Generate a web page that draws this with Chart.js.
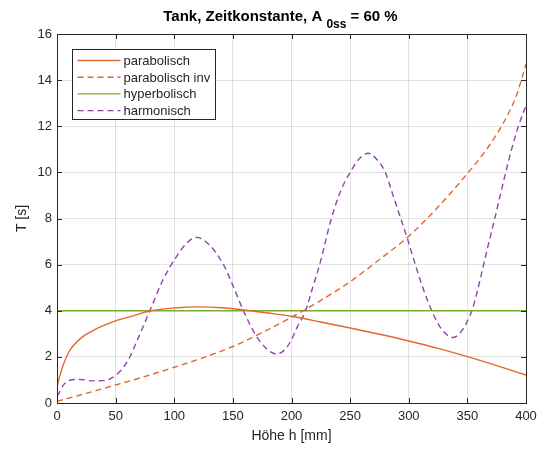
<!DOCTYPE html>
<html>
<head>
<meta charset="utf-8">
<script src="https://cdn.jsdelivr.net/npm/chart.js@4.4.1/dist/chart.umd.min.js"></script>
<style>
  body { margin: 0; background: #fff; }
  #wrap { width: 543px; height: 449px; }
</style>
</head>
<body>
<div id="wrap"><canvas id="myChart" width="543" height="449"></canvas></div>
<script>
// values
const hPara = [0, 2, 5, 10, 15, 22, 30, 37, 50, 65, 78, 100, 120, 140, 160, 180, 200, 225, 250, 275, 300, 325, 350, 375, 400];
const tPara = [0.7, 1.1, 1.6, 2.2, 2.55, 2.88, 3.12, 3.3, 3.56, 3.78, 3.98, 4.12, 4.17, 4.13, 4.03, 3.9, 3.76, 3.51, 3.25, 2.98, 2.69, 2.37, 2.01, 1.62, 1.21];

const hInv = [0, 25, 50, 75, 100, 125, 150, 175, 200, 225, 250, 275, 300, 325, 350, 365, 375, 385, 392, 396, 400];
const tInv = [0.07, 0.42, 0.78, 1.15, 1.55, 1.97, 2.45, 3.05, 3.72, 4.45, 5.26, 6.22, 7.23, 8.5, 9.95, 10.9, 11.65, 12.55, 13.35, 14.0, 14.7];

const hHyp = [0, 400];
const tHyp = [4, 4];

const hHarm = [0, 2, 5, 10, 15, 20, 30, 40, 50, 60, 70, 80, 90, 100, 110, 119, 130, 142, 150, 159, 170, 180, 187, 195, 200, 205, 212, 218, 224, 234, 242, 250, 258, 265.5, 272, 280, 286, 292.5, 299, 305.3, 312, 319.6, 328, 338, 344, 349, 354.5, 359, 363.6, 368.5, 373.6, 378, 382.7, 388, 393.5, 400];
const tHarm = [0.3, 0.45, 0.75, 0.97, 1.02, 1.02, 0.96, 0.97, 1.2, 1.8, 2.9, 4.1, 5.3, 6.2, 6.9, 7.18, 6.85, 6.0, 5.1, 4.0, 2.9, 2.3, 2.12, 2.35, 2.75, 3.3, 4.0, 5.0, 6.0, 8.0, 9.2, 10.0, 10.6, 10.83, 10.6, 10.0, 9.1, 8.1, 7.1, 6.05, 5.0, 4.0, 3.2, 2.84, 3.05, 3.45, 4.1, 4.95, 5.95, 7.0, 8.05, 9.0, 10.0, 11.05, 12.0, 12.9];

const xTicks = [0, 50, 100, 150, 200, 250, 300, 350, 400];
const yTicks = [0, 2, 4, 6, 8, 10, 12, 14, 16];

const seriesNames = ['parabolisch', 'parabolisch inv', 'hyperbolisch', 'harmonisch'];

const FONT = '"Liberation Sans", Arial, Helvetica, sans-serif';
const TXT = '#262626';

const pts = (xs, ys) => xs.map((x, i) => ({ x: x, y: ys[i] }));

function line(label, data, color, dash) {
    return {
        label: label,
        data: data,
        borderColor: color,
        backgroundColor: color,
        borderWidth: 1.4,
        borderDash: dash,
        pointRadius: 0,
        fill: false,
        cubicInterpolationMode: 'monotone'
    };
}

// Title with subscript "0ss"
const titlePlugin = {
    id: 'matTitle',
    afterDraw(chart) {
        const ctx = chart.ctx;
        const a = chart.chartArea;
        const p1 = 'Tank, Zeitkonstante, A ';
        const sub = '0ss';
        const p2 = ' = 60 %';
        ctx.save();
        ctx.fillStyle = '#000';
        ctx.textBaseline = 'alphabetic';
        ctx.textAlign = 'left';
        ctx.font = 'bold 15px ' + FONT;
        const w1 = ctx.measureText(p1).width;
        const w3 = ctx.measureText(p2).width;
        ctx.font = 'bold 12px ' + FONT;
        const w2 = ctx.measureText(sub).width;
        const total = w1 + w2 + w3;
        let x = (a.left + a.right) / 2 - 11 - total / 2;
        ctx.font = 'bold 15px ' + FONT;
        ctx.fillText(p1, x, 21);
        x += w1;
        ctx.font = 'bold 12px ' + FONT;
        ctx.fillText(sub, x, 28);
        x += w2;
        ctx.font = 'bold 15px ' + FONT;
        ctx.fillText(p2, x, 21);
        ctx.restore();
    }
};

// axes box with inward ticks, and legend inside the plot
const boxPlugin = {
    id: 'matBox',
    afterDraw(chart) {
        const ctx = chart.ctx;
        const a = chart.chartArea;
        const xs = chart.scales.x, ys = chart.scales.y;
        const tl = 5;
        ctx.save();
        ctx.strokeStyle = TXT;
        ctx.lineWidth = 1;
        ctx.beginPath();
        xTicks.forEach(v => {
            const px = Math.round(xs.getPixelForValue(v)) + 0.5;
            ctx.moveTo(px, a.bottom); ctx.lineTo(px, a.bottom - tl);
            ctx.moveTo(px, a.top); ctx.lineTo(px, a.top + tl);
        });
        yTicks.forEach(v => {
            const py = Math.round(ys.getPixelForValue(v)) + 0.5;
            ctx.moveTo(a.left, py); ctx.lineTo(a.left + tl, py);
            ctx.moveTo(a.right, py); ctx.lineTo(a.right - tl, py);
        });
        ctx.stroke();
        ctx.strokeRect(Math.round(a.left) + 0.5, Math.round(a.top) + 0.5,
            Math.round(a.right - a.left), Math.round(a.bottom - a.top));

        // legend
        const lx = a.left + 15.5, ly = a.top + 15.5, lw = 143, lh = 70;
        ctx.fillStyle = '#fff';
        ctx.fillRect(lx, ly, lw, lh);
        ctx.strokeRect(lx, ly, lw, lh);
        ctx.font = '13px ' + FONT;
        ctx.textBaseline = 'middle';
        ctx.textAlign = 'left';
        chart.data.datasets.forEach((ds, i) => {
            const y = ly + 11 + i * 16.7;
            ctx.strokeStyle = ds.borderColor;
            ctx.lineWidth = 1.4;
            ctx.setLineDash(ds.borderDash || []);
            ctx.beginPath();
            ctx.moveTo(lx + 5, y);
            ctx.lineTo(lx + 48, y);
            ctx.stroke();
            ctx.setLineDash([]);
            ctx.fillStyle = TXT;
            ctx.fillText(ds.label, lx + 51, y + 1);
        });
        ctx.restore();
    }
};

const config = {
    type: 'line',
    data: {
        datasets: [
            line(seriesNames[0], pts(hPara, tPara), '#E4662F', []),
            line(seriesNames[1], pts(hInv, tInv), '#E4662F', [6, 4]),
            line(seriesNames[2], pts(hHyp, tHyp), '#77AC30', []),
            line(seriesNames[3], pts(hHarm, tHarm), '#9145AA', [6, 4])
        ]
    },
    options: {
        responsive: false,
        animation: false,
        layout: { padding: { top: 34, right: 17, left: 0, bottom: 0 } },
        plugins: {
            legend: { display: false },
            title: { display: false },
            tooltip: { enabled: false }
        },
        scales: {
            x: {
                type: 'linear',
                min: 0,
                max: 400,
                afterBuildTicks: s => { s.ticks = xTicks.map(v => ({ value: v })); },
                afterFit: s => { s.height = 46; },
                grid: { color: 'rgba(38,38,38,0.13)', drawTicks: false },
                border: { display: false },
                ticks: { color: TXT, font: { family: FONT, size: 13 }, padding: 6, maxRotation: 0 },
                title: { display: true, text: 'Höhe h [mm]', color: TXT, font: { family: FONT, size: 14 }, padding: { top: 0, bottom: 4 } }
            },
            y: {
                min: 0,
                max: 16,
                afterBuildTicks: s => { s.ticks = yTicks.map(v => ({ value: v })); },
                afterFit: s => { s.width = 57; },
                grid: { color: 'rgba(38,38,38,0.13)', drawTicks: false },
                border: { display: false },
                ticks: { color: TXT, font: { family: FONT, size: 13 }, padding: 5 },
                title: { display: true, text: 'T [s]', color: TXT, font: { family: FONT, size: 14 }, padding: { top: 14, bottom: 0 } }
            }
        }
    },
    plugins: [titlePlugin, boxPlugin]
};

const myChart = new Chart(document.getElementById('myChart'), config);
</script>
</body>
</html>
